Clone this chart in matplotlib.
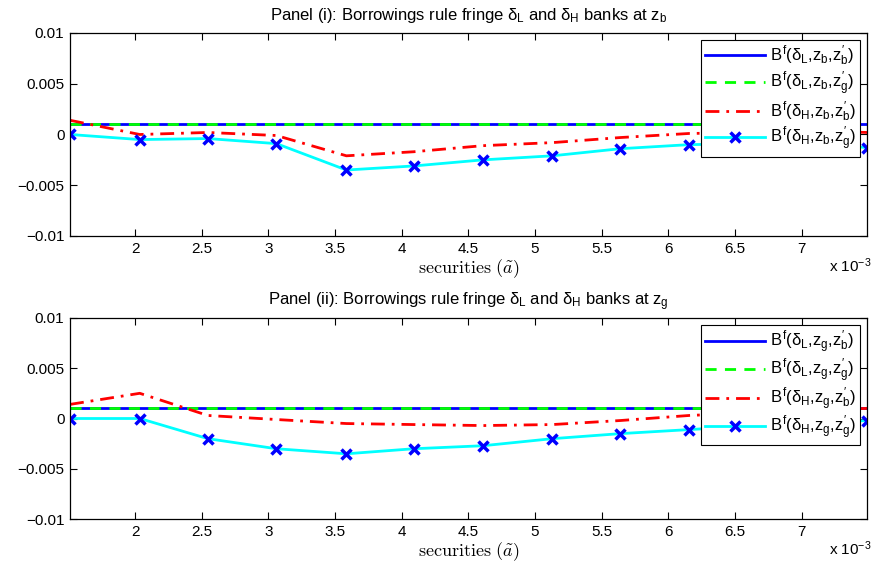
import matplotlib
matplotlib.use("Agg")
import matplotlib.pyplot as plt

plt.rcParams['font.family'] = ['Liberation Sans', 'DejaVu Sans']
plt.rcParams['mathtext.fontset'] = 'custom'
plt.rcParams['mathtext.rm'] = 'Liberation Sans'
plt.rcParams['mathtext.it'] = 'Liberation Sans'
plt.rcParams['mathtext.bf'] = 'Liberation Sans:bold'

# securities grid (x 10^-3)
securities = [1.512, 2.035, 2.546, 3.06, 3.585, 4.09, 4.61, 5.13, 5.64, 6.155, 6.67, 7.19, 7.49]

# Panel (i): state z_b
low_zb_b = [0.001] * 13
low_zb_g = [0.001] * 13
high_zb_b = [0.0014, 0.0000, 0.0002, -0.0001, -0.0021, -0.0017, -0.0011, -0.0008, -0.0003, 0.0001, 0.0002, 0.0003, 0.0002]
high_zb_g = [0.0, -0.0005, -0.0004, -0.0009, -0.0035, -0.0031, -0.0025, -0.0021, -0.0014, -0.0010, -0.0009, -0.0009, -0.0013]

# Panel (ii): state z_g
low_zg_b = [0.001] * 13
low_zg_g = [0.001] * 13
high_zg_b = [0.0014, 0.0025, 0.0003, -0.0001, -0.0005, -0.0006, -0.0007, -0.0006, -0.0002, 0.0003, 0.0006, 0.0009, 0.0010]
high_zg_g = [0.0, 0.0, -0.0020, -0.0030, -0.0035, -0.0030, -0.0027, -0.0020, -0.0015, -0.0011, -0.0007, -0.0004, -0.0002]

x_ticks = [2, 2.5, 3, 3.5, 4, 4.5, 5, 5.5, 6, 6.5, 7]
y_ticks = [-0.01, -0.005, 0, 0.005, 0.01]
y_labels = ['\u22120.01', '\u22120.005', '0', '0.005', '0.01']

panels = [
    ('i', 'b', low_zb_b, low_zb_g, high_zb_b, high_zb_g),
    ('ii', 'g', low_zg_b, low_zg_g, high_zg_b, high_zg_g),
]

fig = plt.figure(figsize=(8.72, 5.67), dpi=100)
rects = [[0.0803, 0.5838, 0.914, 0.358], [0.0803, 0.0841, 0.914, 0.3556]]


def lbl(d, z, zp):
    return r'$B^{f}(\delta_{%s}{,}z_{%s}{,}z_{%s}^{\prime})$' % (d, z, zp)


for rect, (num, z, lb, lg, hb, hg) in zip(rects, panels):
    ax = fig.add_axes(rect)
    ax.plot(securities, lb, color='#0000ff', lw=2, label=lbl('L', z, 'b'))
    ax.plot(securities, lg, color='#00ff00', lw=2, ls=(0, (4, 3)), label=lbl('L', z, 'g'))
    ax.plot(securities, hb, color='#ff0000', lw=2, ls=(0, (5, 2.5, 1, 2.5)), label=lbl('H', z, 'b'))
    ax.plot(securities, hg, color='#00ffff', lw=2, marker='x', ms=7, mew=2.5,
            mec='#0000ff', label=lbl('H', z, 'g'))

    ax.set_xlim(1.512, 7.49)
    ax.set_ylim(-0.01, 0.01)
    ax.set_xticks(x_ticks)
    ax.set_xticklabels([f'{t:g}' for t in x_ticks])
    ax.set_yticks(y_ticks)
    ax.set_yticklabels(y_labels)
    ax.tick_params(direction='in', top=True, right=True, labelsize=11, length=5, width=0.8, pad=4)
    for s in ax.spines.values():
        s.set_linewidth(0.9)

    ax.set_title(r'Panel (%s): Borrowings rule fringe $\delta_{L}$ and $\delta_{H}$ banks at $z_{%s}$' % (num, z),
                 fontsize=12, pad=9)
    ax.set_xlabel(r'$\mathrm{securities}\ (\tilde{a})$', math_fontfamily='cm', fontsize=13, labelpad=1)
    ax.text(1.006, -0.145, r'x 10$^{-3}$', transform=ax.transAxes, ha='right', va='center', fontsize=11)

    leg = ax.legend(loc='upper right', fontsize=12, frameon=True, fancybox=False,
                    edgecolor='black', framealpha=1, handlelength=3.6, handletextpad=0.35,
                    borderaxespad=0.45, labelspacing=0.08, borderpad=0.2)
    leg.get_frame().set_linewidth(0.8)

fig.savefig('out.png', dpi=100)
